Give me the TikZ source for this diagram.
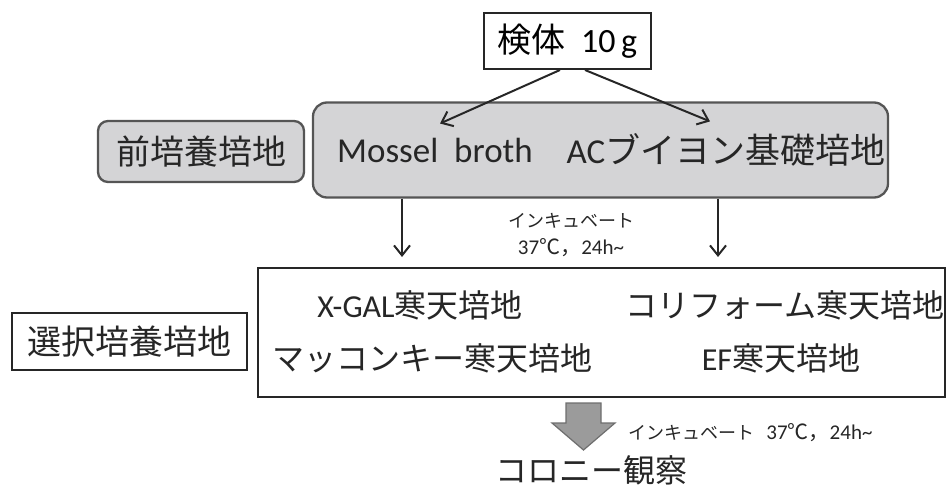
\documentclass[tikz,border=0pt]{standalone}
\usepackage{fontspec}
\setmainfont{Carlito}
\newfontfamily\jp{Noto Sans CJK JP}
\usetikzlibrary{arrows.meta,calc}
\definecolor{boxgray}{RGB}{212,212,214}
\definecolor{edgegray}{RGB}{85,85,85}
\definecolor{fatfill}{RGB}{155,155,155}
\definecolor{fatedge}{RGB}{110,110,110}
\tikzset{
  sz/.style={font=\fontsize{#1}{#1}\selectfont},
  plainbox/.style={draw=black!85, line width=2pt, fill=white, inner sep=0pt},
  graybox/.style={draw=edgegray, line width=2.3pt, fill=boxgray, rounded corners=14pt, inner sep=0pt},
  txt/.style={inner sep=0pt, text=black!85},
  arr/.style={draw=black!85, line width=2pt, -{Straight Barb[length=10pt,width=16pt,line width=2pt]}},
}
\begin{document}
\begin{tikzpicture}[x=1pt,y=-1pt]
\useasboundingbox (0,0) rectangle (949,492);
% boxes
\node[plainbox, minimum width=167pt, minimum height=56pt, sz=34] (sample) at (567.5,41) {{\jp 検体}\ \ 10\,g};
\node[graybox, minimum width=575pt, minimum height=95pt] (pre) at (600.5,150) {};
\node[graybox, rounded corners=10pt, minimum width=206pt, minimum height=61pt, sz=34, text=black!85] (prelabel) at (201,151.5) {\jp 前培養培地};
\node[plainbox, minimum width=687pt, minimum height=129pt] (sel) at (601.5,332.5) {};
\node[plainbox, line width=1.8pt, minimum width=235pt, minimum height=57pt, sz=34, text=black!85] (sellabel) at (129.5,341.5) {\jp 選択培養培地};
% texts in pre box
\node[txt, sz=35] (mossel) at (435,150) {Mossel\ \ broth};
\node[txt, sz=35] (ac) at (726,150) {AC{\jp ブイヨン基礎培地}};
% texts in sel box
\node[txt, sz=32] (xgal) at (420,305) {X-GAL{\jp 寒天培地}};
\node[txt, sz=32] (coli) at (785,305) {\jp コリフォーム寒天培地};
\node[txt, sz=32] (mac) at (432,358) {\jp マッコンキー寒天培地};
\node[txt, sz=32] (ef) at (781,358) {EF{\jp 寒天培地}};
% incubation label
\node[txt, sz=18, align=center] (inc1) at (571,235) {{\jp インキュベート}\\[9pt]{\fontsize{21}{21}\selectfont 37{\jp ℃，}24h\textasciitilde}};
% arrows
\draw[arr] ($(sample.south)+(-7.5,0)$) -- ($(mossel.north)+(5,-14)$);
\draw[arr] ($(sample.south)+(17.5,0)$) -- ($(ac.north)+(-16,-12)$);
\draw[arr, shorten >=10pt] (pre.south -| 402,0) -- (sel.north -| 402,0);
\draw[arr, shorten >=10pt] (pre.south -| 718,0) -- (sel.north -| 718,0);
% fat arrow
\node[txt, sz=18, anchor=west] (inc2) at (628,433) {{\jp インキュベート}\ \ \ {\fontsize{21}{21}\selectfont 37{\jp ℃，}24h\textasciitilde}};
\node[txt, sz=32] (colony) at (591,470) {\jp コロニー観察};
\draw[draw=fatedge, fill=fatfill, line width=1.2pt, line join=miter]
  (566,403) -- (601,403) -- (601,423) -- (615,423) -- (583.5,450) -- (552,423) -- (566,423) -- cycle;
\end{tikzpicture}
\end{document}
